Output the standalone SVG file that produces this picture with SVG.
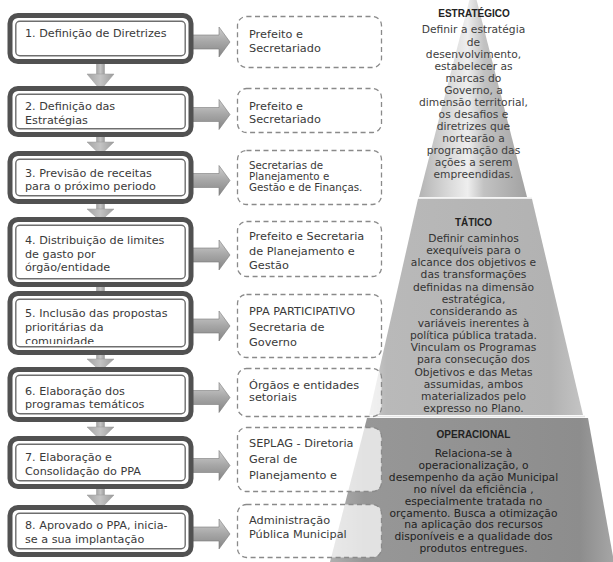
<svg xmlns="http://www.w3.org/2000/svg" width="613" height="562" viewBox="0 0 613 562">
<style>
.ob{fill:#fff;stroke:#515151;stroke-width:5}
.ib{fill:none;stroke:#6e6e6e;stroke-width:1.4}
.db{fill:#fff;fill-opacity:0.72;stroke:#8a8a8a;stroke-width:1.3;stroke-dasharray:5 3.5}
.lt{font-family:"DejaVu Sans",sans-serif;font-size:11.2px;fill:#3a3a3a}
.dt{font-family:"DejaVu Sans",sans-serif;font-size:11.3px;fill:#3a3a3a}
.ds{font-family:"DejaVu Sans",sans-serif;font-size:10.3px;fill:#3a3a3a}
.pt{font-family:"DejaVu Sans",sans-serif;font-size:10.7px;text-anchor:middle}
.ph{font-family:"Liberation Sans",Arial,sans-serif;font-size:10px;font-weight:bold;text-anchor:middle;fill:#222}
.ra{fill:url(#ag);stroke:#7a7a7a;stroke-width:0.6}
.da{fill:url(#dg);stroke:#9a9a9a;stroke-width:0.5}
</style>
<defs>
<linearGradient id="ag" x1="0" y1="0" x2="0" y2="1">
<stop offset="0" stop-color="#cfcfcf"/><stop offset="0.5" stop-color="#a6a6a6"/><stop offset="1" stop-color="#858585"/>
</linearGradient>
<linearGradient id="dg" x1="0" y1="0" x2="1" y2="0">
<stop offset="0" stop-color="#a4a4a4"/><stop offset="0.5" stop-color="#c4c4c4"/><stop offset="1" stop-color="#9c9c9c"/>
</linearGradient>
<linearGradient id="gs" x1="0" y1="0" x2="1" y2="0">
<stop offset="0" stop-color="#b4b4b4"/><stop offset="0.3" stop-color="#dcdcdc"/><stop offset="0.45" stop-color="#eeeeee"/><stop offset="0.6" stop-color="#c2c2c2"/><stop offset="1" stop-color="#a2a2a2"/>
</linearGradient>
<linearGradient id="gt" x1="0" y1="0" x2="1" y2="0">
<stop offset="0" stop-color="#cdcdcd"/><stop offset="0.08" stop-color="#b9b9b9"/><stop offset="0.85" stop-color="#b2b2b2"/><stop offset="1" stop-color="#c4c4c4"/>
</linearGradient>
<linearGradient id="go" x1="0" y1="0" x2="1" y2="0">
<stop offset="0" stop-color="#b0b0b0"/><stop offset="0.12" stop-color="#979797"/><stop offset="0.88" stop-color="#8d8d8d"/><stop offset="1" stop-color="#a6a6a6"/>
</linearGradient>
<clipPath id="c5"><rect x="16" y="298" width="168" height="46"/></clipPath>
</defs>

<g id="pyramid">
<polygon points="473,-14 527,197 419,197" fill="url(#gs)"/>
<polygon points="418,199 532,199 583,415 369,415" fill="url(#gt)"/>
<polygon points="367,418 588,418 614,562 330,562" fill="url(#go)"/>
<line x1="418" y1="198.2" x2="532" y2="198.2" stroke="#ececec" stroke-width="1.6"/>
<line x1="369" y1="416.5" x2="585" y2="416.5" stroke="#e6e6e6" stroke-width="1.6"/>
</g>

<g id="connectors">
<rect class="da" x="96.5" y="62" width="8" height="13"/><polygon class="da" points="87,74 114,74 100.5,90"/>
<rect class="da" x="96.5" y="135" width="8" height="8"/><polygon class="da" points="87,142 114,142 100.5,155"/>
<rect class="da" x="96.5" y="202" width="8" height="8"/><polygon class="da" points="87,209 114,209 100.5,221"/>
<rect class="da" x="96.5" y="285" width="8" height="6"/>
<rect class="da" x="96.5" y="353" width="8" height="7"/><polygon class="da" points="87,359 114,359 100.5,371"/>
<rect class="da" x="96.5" y="420" width="8" height="8"/><polygon class="da" points="87,427 114,427 100.5,440"/>
<rect class="da" x="96.5" y="487" width="8" height="9"/><polygon class="da" points="87,495 114,495 100.5,509"/>
<path class="ra" d="M190,35 H219 V27 L230,42 L219,57 V49 H190 Z"/>
<path class="ra" d="M190,107.5 H219 V99.5 L230,114.5 L219,129.5 V121.5 H190 Z"/>
<path class="ra" d="M190,173.5 H219 V165.5 L230,180.5 L219,195.5 V187.5 H190 Z"/>
<path class="ra" d="M190,248 H219 V240 L230,255 L219,270 V262 H190 Z"/>
<path class="ra" d="M190,319 H219 V311 L230,326 L219,341 V333 H190 Z"/>
<path class="ra" d="M190,390.5 H219 V382.5 L230,397.5 L219,412.5 V404.5 H190 Z"/>
<path class="ra" d="M190,458.5 H219 V450.5 L230,465.5 L219,480.5 V472.5 H190 Z"/>
<path class="ra" d="M190,527 H219 V519 L230,534 L219,549 V541 H190 Z"/>
</g>

<g id="step1"><rect class="ob" x="10" y="15.5" width="181" height="46" rx="8"/><rect class="ib" x="15.8" y="21.3" width="169.4" height="34.4" rx="4"/>
<text class="lt" x="25" y="37">1. Definição de Diretrizes</text></g>
<g id="step2"><rect class="ob" x="10" y="88.5" width="181" height="46" rx="8"/><rect class="ib" x="15.8" y="94.3" width="169.4" height="34.4" rx="4"/>
<text class="lt" x="25" y="110">2. Definição das</text><text class="lt" x="25" y="123.5">Estratégias</text></g>
<g id="step3"><rect class="ob" x="10" y="153.5" width="181" height="48" rx="8"/><rect class="ib" x="15.8" y="159.3" width="169.4" height="36.4" rx="4"/>
<text class="lt" x="25" y="176.5">3. Previsão de receitas</text><text class="lt" x="25" y="190">para o próximo periodo</text></g>
<g id="step4"><rect class="ob" x="10" y="219.5" width="181" height="65" rx="8"/><rect class="ib" x="15.8" y="225.3" width="169.4" height="53.4" rx="4"/>
<text class="lt" x="25" y="243.5">4. Distribuição de limites</text><text class="lt" x="25" y="257.5">de gasto por</text><text class="lt" x="25" y="271">órgão/entidade</text></g>
<g id="step5"><rect class="ob" x="10" y="293.5" width="181" height="59" rx="8"/><rect class="ib" x="15.8" y="299.3" width="169.4" height="47.4" rx="4"/>
<g clip-path="url(#c5)"><text class="lt" x="25" y="317">5. Inclusão das propostas</text><text class="lt" x="25" y="331">prioritárias da</text><text class="lt" x="25" y="345">comunidade</text></g></g>
<g id="step6"><rect class="ob" x="10" y="369.5" width="181" height="50" rx="8"/><rect class="ib" x="15.8" y="375.3" width="169.4" height="38.4" rx="4"/>
<text class="lt" x="25" y="395">6. Elaboração dos</text><text class="lt" x="25" y="408">programas temáticos</text></g>
<g id="step7"><rect class="ob" x="10" y="438.5" width="181" height="48" rx="8"/><rect class="ib" x="15.8" y="444.3" width="169.4" height="36.4" rx="4"/>
<text class="lt" x="25" y="461">7. Elaboração e</text><text class="lt" x="25" y="475">Consolidação do PPA</text></g>
<g id="step8"><rect class="ob" x="10" y="507.5" width="181" height="47" rx="8"/><rect class="ib" x="15.8" y="513.3" width="169.4" height="35.4" rx="4"/>
<text class="lt" x="25" y="529">8. Aprovado o PPA, inicia-</text><text class="lt" x="25" y="543">se a sua implantação</text></g>

<g id="actor1"><rect class="db" x="237.5" y="16.5" width="144" height="51" rx="9"/>
<text class="dt" x="249" y="37.5">Prefeito e</text><text class="dt" x="249" y="51.5">Secretariado</text></g>
<g id="actor2"><rect class="db" x="237.5" y="88.5" width="144" height="44" rx="9"/>
<text class="dt" x="249" y="110">Prefeito e</text><text class="dt" x="249" y="123">Secretariado</text></g>
<g id="actor3"><rect class="db" x="237.5" y="150.5" width="144" height="54" rx="9"/>
<text class="ds" x="249" y="169">Secretarias de</text><text class="ds" x="249" y="180">Planejamento e</text><text class="ds" x="249" y="191">Gestão e de Finanças.</text></g>
<g id="actor4"><rect class="db" x="237.5" y="221.5" width="144" height="55" rx="9"/>
<text class="dt" x="249" y="240">Prefeito e Secretaria</text><text class="dt" x="249" y="254.5">de Planejamento e</text><text class="dt" x="249" y="269">Gestão</text></g>
<g id="actor5"><rect class="db" x="237.5" y="294.5" width="144" height="63" rx="9"/>
<text class="dt" x="249" y="314.5">PPA PARTICIPATIVO</text><text class="dt" x="249" y="330.5">Secretaria de</text><text class="dt" x="249" y="346">Governo</text></g>
<g id="actor6"><rect class="db" x="237.5" y="368.5" width="144" height="48" rx="9"/>
<text class="dt" x="249" y="389">Órgãos e entidades</text><text class="dt" x="249" y="401">setoriais</text></g>
<g id="actor7"><rect class="db" x="237.5" y="427.5" width="144" height="64" rx="9"/>
<text class="dt" x="249" y="447">SEPLAG - Diretoria</text><text class="dt" x="249" y="462.5">Geral de</text><text class="dt" x="249" y="479">Planejamento e</text></g>
<g id="actor8"><rect class="db" x="237.5" y="504.5" width="144" height="53" rx="9"/>
<text class="dt" x="249" y="524">Administração</text><text class="dt" x="249" y="537.5">Pública Municipal</text></g>

<g id="estrategico">
<text class="ph" x="474" y="16.5">ESTRATÉGICO</text>
<g class="pt" fill="#404040">
<text x="473.5" y="33">Definir a estratégia</text>
<text x="473.5" y="46">de</text>
<text x="473.5" y="58">desenvolvimento,</text>
<text x="473.5" y="70">estabelecer as</text>
<text x="473.5" y="82">marcas do</text>
<text x="473.5" y="94">Governo, a</text>
<text x="473.5" y="106">dimensão territorial,</text>
<text x="473.5" y="118">os desafios e</text>
<text x="473.5" y="130">diretrizes que</text>
<text x="473.5" y="142">nortearão a</text>
<text x="473.5" y="154">programação das</text>
<text x="473.5" y="166">ações a serem</text>
<text x="473.5" y="178">empreendidas.</text>
</g></g>

<g id="tatico">
<text class="ph" x="473.5" y="225.5">TÁTICO</text>
<g class="pt" fill="#333">
<text x="473.5" y="242">Definir caminhos</text>
<text x="473.5" y="254.1">exequíveis para o</text>
<text x="473.5" y="266.3">alcance dos objetivos e</text>
<text x="473.5" y="278.4">das transformações</text>
<text x="473.5" y="290.6">definidas na dimensão</text>
<text x="473.5" y="302.7">estratégica,</text>
<text x="473.5" y="314.8">considerando as</text>
<text x="473.5" y="327">variáveis inerentes à</text>
<text x="473.5" y="339.1">política pública tratada.</text>
<text x="473.5" y="351.3">Vinculam os Programas</text>
<text x="473.5" y="363.4">para consecução dos</text>
<text x="473.5" y="375.5">Objetivos e das Metas</text>
<text x="473.5" y="387.7">assumidas, ambos</text>
<text x="473.5" y="399.8">materializados pelo</text>
<text x="473.5" y="412">expresso no Plano.</text>
</g></g>

<g id="operacional">
<text class="ph" x="473.5" y="437.5">OPERACIONAL</text>
<g class="pt" fill="#222">
<text x="473.5" y="457">Relaciona-se à</text>
<text x="473.5" y="468.9">operacionalização, o</text>
<text x="473.5" y="480.8">desempenho da ação Municipal</text>
<text x="473.5" y="492.7">no nível da eficiência ,</text>
<text x="473.5" y="504.6">especialmente tratada no</text>
<text x="473.5" y="516.5">orçamento. Busca a otimização</text>
<text x="473.5" y="528.4">na aplicação dos recursos</text>
<text x="473.5" y="540.3">disponíveis e a qualidade dos</text>
<text x="473.5" y="552.2">produtos entregues.</text>
</g></g>
</svg>
